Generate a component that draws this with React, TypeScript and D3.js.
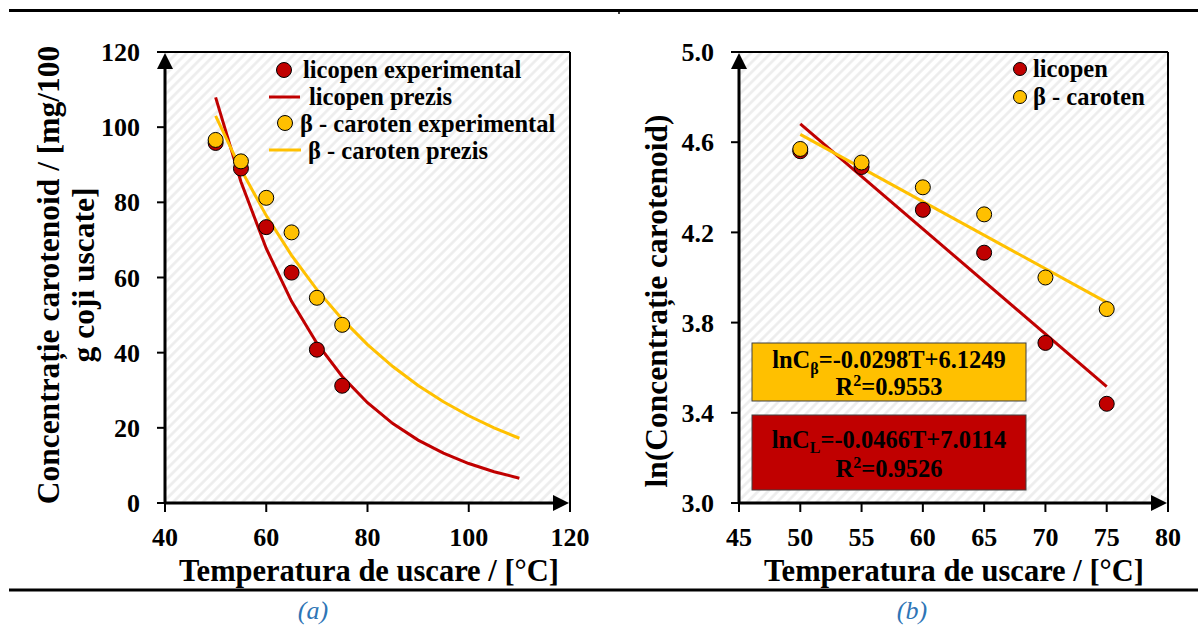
import React from 'react';
import * as d3 from 'd3';

// Drying temperatures of the experimental runs (°C)
const temps = [50, 55, 60, 65, 70, 75];
// Carotenoid concentration, mg / 100 g dried peel
const licopenExp = [95.8, 89.0, 73.4, 61.3, 40.8, 31.2];
const carotenExp = [96.6, 90.9, 81.2, 72.0, 54.6, 47.4];
// Model predictions C = exp(a - bT)
const predTemps = [50, 55, 60, 65, 70, 75, 80, 85, 90, 95, 100, 105, 110];
const licopenPred = [107.92, 85.49, 67.72, 53.65, 42.5, 33.66, 26.67, 21.12, 16.73, 13.26, 10.5, 8.32, 6.59];
const carotenPred = [103.02, 88.76, 76.47, 65.88, 56.76, 48.91, 42.14, 36.3, 31.28, 26.95, 23.22, 20.0, 17.23];
// ln of the measured concentrations
const lnLicopen = [4.56, 4.49, 4.3, 4.11, 3.71, 3.44];
const lnCaroten = [4.57, 4.51, 4.4, 4.28, 4.0, 3.86];
// Linear fits on the log scale
const fitTemps = [50, 75];
const lnLicopenFit = [4.6814, 3.5164];
const lnCarotenFit = [4.6349, 3.8899];

const ticksAx = [40, 60, 80, 100, 120];
const ticksAy = [0, 20, 40, 60, 80, 100, 120];
const ticksBx = [45, 50, 55, 60, 65, 70, 75, 80];
const ticksBy = [3.0, 3.4, 3.8, 4.2, 4.6, 5.0];

const RED = '#C00000';
const YEL = '#FFC000';
const FONT = '"Liberation Serif", "Times New Roman", serif';

const xA = d3.scaleLinear().domain([40, 120]).range([165, 570]);
const yA = d3.scaleLinear().domain([0, 120]).range([503, 52]);
const xB = d3.scaleLinear().domain([45, 80]).range([739, 1168]);
const yB = d3.scaleLinear().domain([3, 5]).range([503, 52]);

type Sc = d3.ScaleLinear<number, number>;

function Frame({ x, y, xt, yt, fmtY }: { x: Sc; y: Sc; xt: number[]; yt: number[]; fmtY: (v: number) => string }) {
  const [x0, x1] = x.range();
  const [y0, y1] = y.range();
  return (
    <g>
      <rect x={x0} y={y1} width={x1 - x0} height={y0 - y1} fill="url(#hatch)" />
      {/* thin top and right border */}
      <line x1={x0} x2={x1} y1={y1} y2={y1} stroke="#000" strokeWidth={2} />
      <line x1={x1} x2={x1} y1={y1} y2={y0} stroke="#000" strokeWidth={2} />
      {/* ticks */}
      {yt.map((v) => (
        <line key={'yt' + v} x1={x0 - 8} x2={x0} y1={y(v)} y2={y(v)} stroke="#000" strokeWidth={2} />
      ))}
      {xt.map((v) => (
        <line key={'xt' + v} x1={x(v)} x2={x(v)} y1={y0} y2={y0 + 9} stroke="#000" strokeWidth={2} />
      ))}
      {/* axes with arrow heads */}
      <line x1={x0} x2={x0} y1={y0 + 1} y2={y1 + 12} stroke="#000" strokeWidth={3} />
      <path d={`M${x0},${y1 + 1} L${x0 - 8},${y1 + 17} L${x0 + 8},${y1 + 17} Z`} fill="#000" />
      <line x1={x0 - 1} x2={x1 - 12} y1={y0} y2={y0} stroke="#000" strokeWidth={3} />
      <path d={`M${x1 - 1},${y0} L${x1 - 17},${y0 - 8} L${x1 - 17},${y0 + 8} Z`} fill="#000" />
      {/* tick labels */}
      {yt.map((v) => (
        <text key={'yl' + v} x={x0 - 25} y={y(v)} dy="0.35em" textAnchor="end" fontSize={26} fontWeight="bold">
          {fmtY(v)}
        </text>
      ))}
      {xt.map((v) => (
        <text key={'xl' + v} x={x(v)} y={546} textAnchor="middle" fontSize={26} fontWeight="bold">
          {v}
        </text>
      ))}
    </g>
  );
}

function Dot({ cx, cy, fill, r = 7.5 }: { cx: number; cy: number; fill: string; r?: number }) {
  return <circle cx={cx} cy={cy} r={r} fill={fill} stroke="#000" strokeWidth={1} />;
}

export default function App() {
  const lineA = (vals: number[]) =>
    d3.line<number>().x((_, i) => xA(predTemps[i])).y((d) => yA(d))(vals) as string;
  const lineB = (vals: number[]) =>
    d3.line<number>().x((_, i) => xB(fitTemps[i])).y((d) => yB(d))(vals) as string;

  return (
    <svg width={1198} height={626} style={{ position: 'absolute', left: 0, top: 0, background: '#fff' }} fontFamily={FONT}>
      <defs>
        <pattern id="hatch" patternUnits="userSpaceOnUse" width={7} height={7} patternTransform="rotate(45)">
          <rect width={7} height={7} fill="#ffffff" />
          <line x1={1.5} x2={1.5} y1={0} y2={7} stroke="#ececec" strokeWidth={2.5} />
        </pattern>
      </defs>

      {/* page rules */}
      <line x1={9} x2={1198} y1={10.5} y2={10.5} stroke="#000" strokeWidth={3} />
      <line x1={619} x2={619} y1={11} y2={14} stroke="#000" strokeWidth={1.5} />
      <line x1={9} x2={1198} y1={590} y2={590} stroke="#000" strokeWidth={3} />

      {/* ---------- panel (a) ---------- */}
      <Frame x={xA} y={yA} xt={ticksAx} yt={ticksAy} fmtY={(v) => String(v)} />
      <path d={lineA(licopenPred)} fill="none" stroke={RED} strokeWidth={3} />
      <path d={lineA(carotenPred)} fill="none" stroke={YEL} strokeWidth={3} />
      {temps.map((t, i) => (
        <Dot key={'la' + t} cx={xA(t)} cy={yA(licopenExp[i])} fill={RED} />
      ))}
      {temps.map((t, i) => (
        <Dot key={'ca' + t} cx={xA(t)} cy={yA(carotenExp[i])} fill={YEL} />
      ))}

      {/* legend (a) */}
      <g fontSize={24.5} fontWeight="bold">
        <Dot cx={284} cy={70} fill={RED} />
        <text x={303} y={70} dy="0.33em">licopen experimental</text>
        <line x1={269} x2={300} y1={97} y2={97} stroke={RED} strokeWidth={3} />
        <text x={309} y={97} dy="0.33em">licopen prezis</text>
        <Dot cx={285} cy={123} fill={YEL} />
        <text x={300} y={124} dy="0.33em">β - caroten experimental</text>
        <line x1={269} x2={301} y1={150} y2={150} stroke={YEL} strokeWidth={3} />
        <text x={308} y={151} dy="0.33em">β - caroten prezis</text>
      </g>

      {/* axis titles (a) */}
      <text x={369} y={581} textAnchor="middle" fontSize={30.5} fontWeight="bold">
        Temperatura de uscare / [°C]
      </text>
      <g transform="translate(59,275) rotate(-90)">
        <text x={0} y={0} textAnchor="middle" fontSize={31.5} fontWeight="bold">
          Concentrație carotenoid / [mg/100
        </text>
        <text x={0} y={35} textAnchor="middle" fontSize={31.5} fontWeight="bold">
          g coji uscate]
        </text>
      </g>

      {/* ---------- panel (b) ---------- */}
      <Frame x={xB} y={yB} xt={ticksBx} yt={ticksBy} fmtY={(v) => v.toFixed(1)} />
      <path d={lineB(lnLicopenFit)} fill="none" stroke={RED} strokeWidth={3} />
      <path d={lineB(lnCarotenFit)} fill="none" stroke={YEL} strokeWidth={3} />
      {temps.map((t, i) => (
        <Dot key={'lb' + t} cx={xB(t)} cy={yB(lnLicopen[i])} fill={RED} />
      ))}
      {temps.map((t, i) => (
        <Dot key={'cb' + t} cx={xB(t)} cy={yB(lnCaroten[i])} fill={YEL} />
      ))}

      {/* legend (b) */}
      <g fontSize={24.5} fontWeight="bold">
        <Dot cx={1020} cy={69} fill={RED} r={6.5} />
        <text x={1033} y={69} dy="0.33em">licopen</text>
        <Dot cx={1020} cy={97} fill={YEL} r={6.5} />
        <text x={1033} y={97} dy="0.33em">β - caroten</text>
      </g>

      {/* regression equations */}
      <rect x={752} y={343} width={274} height={58} fill={YEL} stroke="#404040" strokeWidth={1} />
      <text x={889} y={368} textAnchor="middle" fontSize={24.5} fontWeight="bold">
        lnC<tspan fontSize={16} dy={6}>β</tspan>
        <tspan dy={-6}>=-0.0298T+6.1249</tspan>
      </text>
      <text x={889} y={395} textAnchor="middle" fontSize={24.5} fontWeight="bold">
        R<tspan fontSize={16} dy={-9}>2</tspan>
        <tspan dy={9}>=0.9553</tspan>
      </text>
      <rect x={752} y={415} width={274} height={75} fill={RED} stroke="#404040" strokeWidth={1} />
      <text x={889} y={448} textAnchor="middle" fontSize={24.5} fontWeight="bold">
        lnC<tspan fontSize={16} dy={5}>L</tspan>
        <tspan dy={-5}>=-0.0466T+7.0114</tspan>
      </text>
      <text x={889} y={477} textAnchor="middle" fontSize={24.5} fontWeight="bold">
        R<tspan fontSize={16} dy={-9}>2</tspan>
        <tspan dy={9}>=0.9526</tspan>
      </text>

      {/* axis titles (b) */}
      <text x={954} y={581} textAnchor="middle" fontSize={30.5} fontWeight="bold">
        Temperatura de uscare / [°C]
      </text>
      <text transform="translate(667,301) rotate(-90)" textAnchor="middle" fontSize={31.5} fontWeight="bold">
        ln(Concentrație carotenoid)
      </text>

      {/* panel captions */}
      <text x={313} y={619} textAnchor="middle" fontSize={26} fontStyle="italic" fill="#2E75B6">
        (a)
      </text>
      <text x={912} y={619} textAnchor="middle" fontSize={26} fontStyle="italic" fill="#2E75B6">
        (b)
      </text>
    </svg>
  );
}
